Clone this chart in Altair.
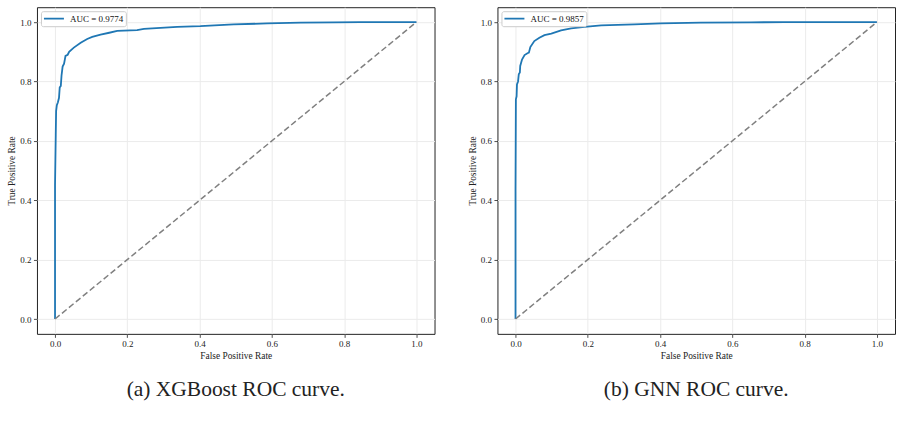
import altair as alt
import pandas as pd

# ---- data ----
xgb_fpr = [0.0, 0.0, 0.002, 0.003, 0.005, 0.008, 0.011, 0.013, 0.016, 0.018, 0.021, 0.025,
           0.029, 0.035, 0.039, 0.052, 0.071, 0.089, 0.103, 0.126, 0.150, 0.172, 0.227,
           0.246, 0.338, 0.402, 0.494, 0.587, 0.680, 0.770, 0.845, 1.0]
xgb_tpr = [0.0, 0.45, 0.62, 0.70, 0.72, 0.73, 0.745, 0.78, 0.785, 0.82, 0.85, 0.86,
           0.886, 0.89, 0.90, 0.914, 0.93, 0.943, 0.95, 0.958, 0.964, 0.970, 0.973,
           0.977, 0.984, 0.986, 0.992, 0.9955, 0.998, 0.999, 1.0, 1.0]
xgb_label = "AUC = 0.9774"
xgb_caption = "(a) XGBoost ROC curve."

gnn_fpr = [0.0, 0.0, 0.001, 0.003, 0.004, 0.007, 0.009, 0.012, 0.013, 0.018, 0.025, 0.033,
           0.037, 0.041, 0.052, 0.066, 0.080, 0.099, 0.126, 0.154, 0.191, 0.237, 0.329,
           0.402, 0.513, 0.651, 0.743, 1.0]
gnn_tpr = [0.0, 0.43, 0.74, 0.75, 0.79, 0.80, 0.824, 0.83, 0.852, 0.874, 0.889, 0.895,
           0.897, 0.916, 0.936, 0.947, 0.956, 0.961, 0.972, 0.979, 0.984, 0.989, 0.992,
           0.9955, 0.998, 0.999, 1.0, 1.0]
gnn_label = "AUC = 0.9857"
gnn_caption = "(b) GNN ROC curve."

diag_x = [0.0, 1.0]
diag_y = [0.0, 1.0]
tick_values = [0.0, 0.2, 0.4, 0.6, 0.8, 1.0]

FONT = "Liberation Serif"
BLUE = "#1f77b4"


def panel(fpr, tpr, label, caption):
    df = pd.DataFrame({"fpr": fpr, "tpr": tpr, "i": list(range(len(fpr))), "label": [label] * len(fpr)})
    dd = pd.DataFrame({"fpr": diag_x, "tpr": diag_y})
    xs = alt.Scale(domain=[-0.05, 1.05], nice=False, zero=False)
    ys = alt.Scale(domain=[-0.05, 1.05], nice=False, zero=False)
    xax = alt.Axis(values=tick_values, format=".1f", title="False Positive Rate")
    yax = alt.Axis(values=tick_values, format=".1f", title="True Positive Rate")
    roc = alt.Chart(df).mark_line(strokeWidth=1.8).encode(
        x=alt.X("fpr:Q", scale=xs, axis=xax),
        y=alt.Y("tpr:Q", scale=ys, axis=yax),
        order=alt.Order("i:Q"),
        color=alt.Color("label:N", scale=alt.Scale(range=[BLUE]),
                        legend=alt.Legend(title=None, orient="top-left", offset=4,
                                          padding=2, fillColor="white", strokeColor="#cccccc",
                                          cornerRadius=2, symbolType="stroke", symbolSize=400,
                                          symbolStrokeWidth=1.8, labelFontSize=9, labelFont=FONT,
                                          labelColor="#111111", labelOffset=5, clipHeight=11)),
    )
    diag = alt.Chart(dd).mark_line(color="#808080", strokeWidth=1.5, strokeDash=[6, 3]).encode(
        x=alt.X("fpr:Q", scale=xs, axis=xax),
        y=alt.Y("tpr:Q", scale=ys, axis=yax),
    )
    return alt.layer(roc, diag).properties(
        width=398, height=327,
        title=alt.TitleParams(caption, orient="bottom", anchor="middle", fontSize=21.5,
                              font=FONT, fontWeight="normal", color="#222222", offset=19),
    )


chart = alt.hconcat(
    panel(xgb_fpr, xgb_tpr, xgb_label, xgb_caption),
    panel(gnn_fpr, gnn_tpr, gnn_label, gnn_caption),
    spacing=31,
).resolve_scale(color="independent").properties(
    padding={"left": 6, "top": 6, "right": 5, "bottom": 5},
    background="white",
).configure_view(stroke="#222222", strokeWidth=1).configure_axis(
    grid=True, gridColor="#ebebeb", gridWidth=1, domain=False,
    tickSize=3.5, tickColor="#222222", tickWidth=0.8,
    labelFont=FONT, labelFontSize=9, labelColor="#222222", labelPadding=2.5,
    titleFont=FONT, titleFontSize=9.4, titleFontWeight="normal", titleColor="#222222", titlePadding=3,
)

chart.save("out.html", embed_options={"renderer": "svg", "actions": False})
